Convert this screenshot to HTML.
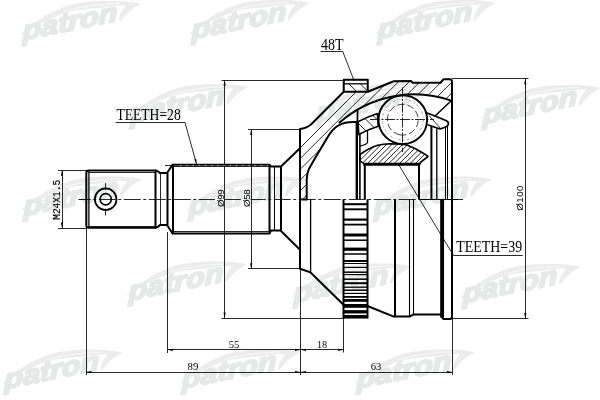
<!DOCTYPE html>
<html lang="en">
<head>
<meta charset="utf-8">
<title>patron CV joint drawing</title>
<style>
html,body{margin:0;padding:0;background:#fff;}
body{width:600px;height:400px;overflow:hidden;}
svg{display:block;will-change:transform;}
</style>
</head>
<body>
<svg width="600" height="400" viewBox="0 0 600 400">
<rect x="0" y="0" width="600" height="400" fill="#fff"/>
<g id="wm">
<g transform="translate(20.00 52.00)">
<path fill="#ececec" d="M1 -18 C14 -30 30 -41 50 -47 C62 -50 78 -51.5 96 -51 C106 -50.8 114 -49.8 121 -48 C113 -44.5 106 -38.5 100.5 -30.5 L98.5 -32 C99.5 -37 102 -42 106 -46.3 C98 -46.8 90 -45.5 84 -44.5 C72 -43.5 62 -42.5 54 -41.2 C42 -39 30 -34 16.5 -26.2 C10 -22.5 5 -19.5 1 -16.5Z"/>
<path fill="none" stroke="#fff" stroke-width="0.7" d="M44 -40.5 C56 -44.5 74 -47.6 100 -48.6"/>
</g>
<g transform="translate(22.80 40.20) skewY(-11.5)"><text x="0" y="0" font-family="'Liberation Sans', sans-serif" font-size="27" font-weight="bold" font-style="italic" fill="#e7e8e8" stroke="#e7e8e8" stroke-width="2.0" stroke-linejoin="round" textLength="94.5" lengthAdjust="spacingAndGlyphs">patron</text></g>
<g transform="translate(189.00 51.00)">
<path fill="#ececec" d="M1 -18 C14 -30 30 -41 50 -47 C62 -50 78 -51.5 96 -51 C106 -50.8 114 -49.8 121 -48 C113 -44.5 106 -38.5 100.5 -30.5 L98.5 -32 C99.5 -37 102 -42 106 -46.3 C98 -46.8 90 -45.5 84 -44.5 C72 -43.5 62 -42.5 54 -41.2 C42 -39 30 -34 16.5 -26.2 C10 -22.5 5 -19.5 1 -16.5Z"/>
<path fill="none" stroke="#fff" stroke-width="0.7" d="M44 -40.5 C56 -44.5 74 -47.6 100 -48.6"/>
</g>
<g transform="translate(191.80 39.20) skewY(-11.5)"><text x="0" y="0" font-family="'Liberation Sans', sans-serif" font-size="27" font-weight="bold" font-style="italic" fill="#e7e8e8" stroke="#e7e8e8" stroke-width="2.0" stroke-linejoin="round" textLength="94.5" lengthAdjust="spacingAndGlyphs">patron</text></g>
<g transform="translate(375.00 51.00)">
<path fill="#ececec" d="M1 -18 C14 -30 30 -41 50 -47 C62 -50 78 -51.5 96 -51 C106 -50.8 114 -49.8 121 -48 C113 -44.5 106 -38.5 100.5 -30.5 L98.5 -32 C99.5 -37 102 -42 106 -46.3 C98 -46.8 90 -45.5 84 -44.5 C72 -43.5 62 -42.5 54 -41.2 C42 -39 30 -34 16.5 -26.2 C10 -22.5 5 -19.5 1 -16.5Z"/>
<path fill="none" stroke="#fff" stroke-width="0.7" d="M44 -40.5 C56 -44.5 74 -47.6 100 -48.6"/>
</g>
<g transform="translate(377.80 39.20) skewY(-11.5)"><text x="0" y="0" font-family="'Liberation Sans', sans-serif" font-size="27" font-weight="bold" font-style="italic" fill="#e7e8e8" stroke="#e7e8e8" stroke-width="2.0" stroke-linejoin="round" textLength="94.5" lengthAdjust="spacingAndGlyphs">patron</text></g>
<g transform="translate(127.50 135.00)">
<path fill="#ececec" d="M1 -18 C14 -30 30 -41 50 -47 C62 -50 78 -51.5 96 -51 C106 -50.8 114 -49.8 121 -48 C113 -44.5 106 -38.5 100.5 -30.5 L98.5 -32 C99.5 -37 102 -42 106 -46.3 C98 -46.8 90 -45.5 84 -44.5 C72 -43.5 62 -42.5 54 -41.2 C42 -39 30 -34 16.5 -26.2 C10 -22.5 5 -19.5 1 -16.5Z"/>
<path fill="none" stroke="#fff" stroke-width="0.7" d="M44 -40.5 C56 -44.5 74 -47.6 100 -48.6"/>
</g>
<g transform="translate(130.30 123.20) skewY(-11.5)"><text x="0" y="0" font-family="'Liberation Sans', sans-serif" font-size="27" font-weight="bold" font-style="italic" fill="#e7e8e8" stroke="#e7e8e8" stroke-width="2.0" stroke-linejoin="round" textLength="94.5" lengthAdjust="spacingAndGlyphs">patron</text></g>
<g transform="translate(314.00 134.00)">
<path fill="#ececec" d="M1 -18 C14 -30 30 -41 50 -47 C62 -50 78 -51.5 96 -51 C106 -50.8 114 -49.8 121 -48 C113 -44.5 106 -38.5 100.5 -30.5 L98.5 -32 C99.5 -37 102 -42 106 -46.3 C98 -46.8 90 -45.5 84 -44.5 C72 -43.5 62 -42.5 54 -41.2 C42 -39 30 -34 16.5 -26.2 C10 -22.5 5 -19.5 1 -16.5Z"/>
<path fill="none" stroke="#fff" stroke-width="0.7" d="M44 -40.5 C56 -44.5 74 -47.6 100 -48.6"/>
</g>
<g transform="translate(316.80 122.20) skewY(-11.5)"><text x="0" y="0" font-family="'Liberation Sans', sans-serif" font-size="27" font-weight="bold" font-style="italic" fill="#e7e8e8" stroke="#e7e8e8" stroke-width="2.0" stroke-linejoin="round" textLength="94.5" lengthAdjust="spacingAndGlyphs">patron</text></g>
<g transform="translate(480.00 136.00)">
<path fill="#ececec" d="M1 -18 C14 -30 30 -41 50 -47 C62 -50 78 -51.5 96 -51 C106 -50.8 114 -49.8 121 -48 C113 -44.5 106 -38.5 100.5 -30.5 L98.5 -32 C99.5 -37 102 -42 106 -46.3 C98 -46.8 90 -45.5 84 -44.5 C72 -43.5 62 -42.5 54 -41.2 C42 -39 30 -34 16.5 -26.2 C10 -22.5 5 -19.5 1 -16.5Z"/>
<path fill="none" stroke="#fff" stroke-width="0.7" d="M44 -40.5 C56 -44.5 74 -47.6 100 -48.6"/>
</g>
<g transform="translate(482.80 124.20) skewY(-11.5)"><text x="0" y="0" font-family="'Liberation Sans', sans-serif" font-size="27" font-weight="bold" font-style="italic" fill="#e7e8e8" stroke="#e7e8e8" stroke-width="2.0" stroke-linejoin="round" textLength="94.5" lengthAdjust="spacingAndGlyphs">patron</text></g>
<g transform="translate(21.00 227.50)">
<path fill="#ececec" d="M1 -18 C14 -30 30 -41 50 -47 C62 -50 78 -51.5 96 -51 C106 -50.8 114 -49.8 121 -48 C113 -44.5 106 -38.5 100.5 -30.5 L98.5 -32 C99.5 -37 102 -42 106 -46.3 C98 -46.8 90 -45.5 84 -44.5 C72 -43.5 62 -42.5 54 -41.2 C42 -39 30 -34 16.5 -26.2 C10 -22.5 5 -19.5 1 -16.5Z"/>
<path fill="none" stroke="#fff" stroke-width="0.7" d="M44 -40.5 C56 -44.5 74 -47.6 100 -48.6"/>
</g>
<g transform="translate(23.80 215.70) skewY(-11.5)"><text x="0" y="0" font-family="'Liberation Sans', sans-serif" font-size="27" font-weight="bold" font-style="italic" fill="#e7e8e8" stroke="#e7e8e8" stroke-width="2.0" stroke-linejoin="round" textLength="94.5" lengthAdjust="spacingAndGlyphs">patron</text></g>
<g transform="translate(186.00 227.50)">
<path fill="#ececec" d="M1 -18 C14 -30 30 -41 50 -47 C62 -50 78 -51.5 96 -51 C106 -50.8 114 -49.8 121 -48 C113 -44.5 106 -38.5 100.5 -30.5 L98.5 -32 C99.5 -37 102 -42 106 -46.3 C98 -46.8 90 -45.5 84 -44.5 C72 -43.5 62 -42.5 54 -41.2 C42 -39 30 -34 16.5 -26.2 C10 -22.5 5 -19.5 1 -16.5Z"/>
<path fill="none" stroke="#fff" stroke-width="0.7" d="M44 -40.5 C56 -44.5 74 -47.6 100 -48.6"/>
</g>
<g transform="translate(188.80 215.70) skewY(-11.5)"><text x="0" y="0" font-family="'Liberation Sans', sans-serif" font-size="27" font-weight="bold" font-style="italic" fill="#e7e8e8" stroke="#e7e8e8" stroke-width="2.0" stroke-linejoin="round" textLength="94.5" lengthAdjust="spacingAndGlyphs">patron</text></g>
<g transform="translate(371.30 227.50)">
<path fill="#ececec" d="M1 -18 C14 -30 30 -41 50 -47 C62 -50 78 -51.5 96 -51 C106 -50.8 114 -49.8 121 -48 C113 -44.5 106 -38.5 100.5 -30.5 L98.5 -32 C99.5 -37 102 -42 106 -46.3 C98 -46.8 90 -45.5 84 -44.5 C72 -43.5 62 -42.5 54 -41.2 C42 -39 30 -34 16.5 -26.2 C10 -22.5 5 -19.5 1 -16.5Z"/>
<path fill="none" stroke="#fff" stroke-width="0.7" d="M44 -40.5 C56 -44.5 74 -47.6 100 -48.6"/>
</g>
<g transform="translate(374.10 215.70) skewY(-11.5)"><text x="0" y="0" font-family="'Liberation Sans', sans-serif" font-size="27" font-weight="bold" font-style="italic" fill="#e7e8e8" stroke="#e7e8e8" stroke-width="2.0" stroke-linejoin="round" textLength="94.5" lengthAdjust="spacingAndGlyphs">patron</text></g>
<g transform="translate(126.00 312.50)">
<path fill="#ececec" d="M1 -18 C14 -30 30 -41 50 -47 C62 -50 78 -51.5 96 -51 C106 -50.8 114 -49.8 121 -48 C113 -44.5 106 -38.5 100.5 -30.5 L98.5 -32 C99.5 -37 102 -42 106 -46.3 C98 -46.8 90 -45.5 84 -44.5 C72 -43.5 62 -42.5 54 -41.2 C42 -39 30 -34 16.5 -26.2 C10 -22.5 5 -19.5 1 -16.5Z"/>
<path fill="none" stroke="#fff" stroke-width="0.7" d="M44 -40.5 C56 -44.5 74 -47.6 100 -48.6"/>
</g>
<g transform="translate(128.80 300.70) skewY(-11.5)"><text x="0" y="0" font-family="'Liberation Sans', sans-serif" font-size="27" font-weight="bold" font-style="italic" fill="#e7e8e8" stroke="#e7e8e8" stroke-width="2.0" stroke-linejoin="round" textLength="94.5" lengthAdjust="spacingAndGlyphs">patron</text></g>
<g transform="translate(291.00 314.50)">
<path fill="#ececec" d="M1 -18 C14 -30 30 -41 50 -47 C62 -50 78 -51.5 96 -51 C106 -50.8 114 -49.8 121 -48 C113 -44.5 106 -38.5 100.5 -30.5 L98.5 -32 C99.5 -37 102 -42 106 -46.3 C98 -46.8 90 -45.5 84 -44.5 C72 -43.5 62 -42.5 54 -41.2 C42 -39 30 -34 16.5 -26.2 C10 -22.5 5 -19.5 1 -16.5Z"/>
<path fill="none" stroke="#fff" stroke-width="0.7" d="M44 -40.5 C56 -44.5 74 -47.6 100 -48.6"/>
</g>
<g transform="translate(293.80 302.70) skewY(-11.5)"><text x="0" y="0" font-family="'Liberation Sans', sans-serif" font-size="27" font-weight="bold" font-style="italic" fill="#e7e8e8" stroke="#e7e8e8" stroke-width="2.0" stroke-linejoin="round" textLength="94.5" lengthAdjust="spacingAndGlyphs">patron</text></g>
<g transform="translate(460.00 315.00)">
<path fill="#ececec" d="M1 -18 C14 -30 30 -41 50 -47 C62 -50 78 -51.5 96 -51 C106 -50.8 114 -49.8 121 -48 C113 -44.5 106 -38.5 100.5 -30.5 L98.5 -32 C99.5 -37 102 -42 106 -46.3 C98 -46.8 90 -45.5 84 -44.5 C72 -43.5 62 -42.5 54 -41.2 C42 -39 30 -34 16.5 -26.2 C10 -22.5 5 -19.5 1 -16.5Z"/>
<path fill="none" stroke="#fff" stroke-width="0.7" d="M44 -40.5 C56 -44.5 74 -47.6 100 -48.6"/>
</g>
<g transform="translate(462.80 303.20) skewY(-11.5)"><text x="0" y="0" font-family="'Liberation Sans', sans-serif" font-size="27" font-weight="bold" font-style="italic" fill="#e7e8e8" stroke="#e7e8e8" stroke-width="2.0" stroke-linejoin="round" textLength="94.5" lengthAdjust="spacingAndGlyphs">patron</text></g>
<g transform="translate(1.80 400.70)">
<path fill="#ececec" d="M1 -18 C14 -30 30 -41 50 -47 C62 -50 78 -51.5 96 -51 C106 -50.8 114 -49.8 121 -48 C113 -44.5 106 -38.5 100.5 -30.5 L98.5 -32 C99.5 -37 102 -42 106 -46.3 C98 -46.8 90 -45.5 84 -44.5 C72 -43.5 62 -42.5 54 -41.2 C42 -39 30 -34 16.5 -26.2 C10 -22.5 5 -19.5 1 -16.5Z"/>
<path fill="none" stroke="#fff" stroke-width="0.7" d="M44 -40.5 C56 -44.5 74 -47.6 100 -48.6"/>
</g>
<g transform="translate(4.60 388.90) skewY(-11.5)"><text x="0" y="0" font-family="'Liberation Sans', sans-serif" font-size="27" font-weight="bold" font-style="italic" fill="#e7e8e8" stroke="#e7e8e8" stroke-width="2.0" stroke-linejoin="round" textLength="94.5" lengthAdjust="spacingAndGlyphs">patron</text></g>
<g transform="translate(179.30 400.50)">
<path fill="#ececec" d="M1 -18 C14 -30 30 -41 50 -47 C62 -50 78 -51.5 96 -51 C106 -50.8 114 -49.8 121 -48 C113 -44.5 106 -38.5 100.5 -30.5 L98.5 -32 C99.5 -37 102 -42 106 -46.3 C98 -46.8 90 -45.5 84 -44.5 C72 -43.5 62 -42.5 54 -41.2 C42 -39 30 -34 16.5 -26.2 C10 -22.5 5 -19.5 1 -16.5Z"/>
<path fill="none" stroke="#fff" stroke-width="0.7" d="M44 -40.5 C56 -44.5 74 -47.6 100 -48.6"/>
</g>
<g transform="translate(182.10 388.70) skewY(-11.5)"><text x="0" y="0" font-family="'Liberation Sans', sans-serif" font-size="27" font-weight="bold" font-style="italic" fill="#e7e8e8" stroke="#e7e8e8" stroke-width="2.0" stroke-linejoin="round" textLength="94.5" lengthAdjust="spacingAndGlyphs">patron</text></g>
<g transform="translate(354.00 400.50)">
<path fill="#ececec" d="M1 -18 C14 -30 30 -41 50 -47 C62 -50 78 -51.5 96 -51 C106 -50.8 114 -49.8 121 -48 C113 -44.5 106 -38.5 100.5 -30.5 L98.5 -32 C99.5 -37 102 -42 106 -46.3 C98 -46.8 90 -45.5 84 -44.5 C72 -43.5 62 -42.5 54 -41.2 C42 -39 30 -34 16.5 -26.2 C10 -22.5 5 -19.5 1 -16.5Z"/>
<path fill="none" stroke="#fff" stroke-width="0.7" d="M44 -40.5 C56 -44.5 74 -47.6 100 -48.6"/>
</g>
<g transform="translate(356.80 388.70) skewY(-11.5)"><text x="0" y="0" font-family="'Liberation Sans', sans-serif" font-size="27" font-weight="bold" font-style="italic" fill="#e7e8e8" stroke="#e7e8e8" stroke-width="2.0" stroke-linejoin="round" textLength="94.5" lengthAdjust="spacingAndGlyphs">patron</text></g>
</g>
<defs>
<clipPath id="cH"><path d="M300 199.5 L300 129 Q306 128.5 311 124.5 L341.5 94 L343.75 91.75 L367.75 91.75 L393.75 81.25 L411 81 L412.75 82.75 L440.5 82.75 L443.5 79.3 L450.25 79.3 L452 81.5 L452 100.8 A112.6 112.6 0 0 0 339.5 122.4 L340.5 124 Q338 125.3 336 127 Q332 130 328.8 135.3 L315.3 157.8 L310 167 Q307 172 306.7 180 L306.7 199.5 Z"/></clipPath>
<clipPath id="cR"><path d="M360 154.7 Q364 151.5 368.3 149.3 Q373 147 377.7 145.3 Q383 144 390 143.8 L403 144.3 Q408 145 411 146.7 Q415 148.3 419 150.7 L425.7 154.7 L428 156.5 L420.3 162.5 L420.3 163.5 L363.5 163.5 L360 160.7 Z"/></clipPath>
<clipPath id="cCL"><path d="M358 121.75 Q368 116.5 377.5 113.5 L378.25 126.25 Q368 129.5 358.75 134.5 Z"/></clipPath>
<clipPath id="cRT"><path d="M343.75 83.8 H367.75 V91.75 H343.75 Z"/></clipPath>
</defs>
<g id="thin">
<line x1="78.5" y1="199.5" x2="463" y2="199.5" stroke="#111" stroke-width="0.9" stroke-dasharray="17 2.5 3 2.5" stroke-dashoffset="4.75"/>
<rect x="215" y="197" width="9" height="5" fill="#fff"/>
<rect x="241.5" y="197" width="9" height="5" fill="#fff"/>
<g clip-path="url(#cH)">
<line x1="388.0" y1="60" x2="238.0" y2="210" stroke="#111" stroke-width="0.9" />
<line x1="398.75" y1="60" x2="248.75" y2="210" stroke="#111" stroke-width="0.9" />
<line x1="409.5" y1="60" x2="259.5" y2="210" stroke="#111" stroke-width="0.9" />
<line x1="420.25" y1="60" x2="270.25" y2="210" stroke="#111" stroke-width="0.9" />
<line x1="431.0" y1="60" x2="281.0" y2="210" stroke="#111" stroke-width="0.9" />
<line x1="441.75" y1="60" x2="291.75" y2="210" stroke="#111" stroke-width="0.9" />
<line x1="452.5" y1="60" x2="302.5" y2="210" stroke="#111" stroke-width="0.9" />
<line x1="463.25" y1="60" x2="313.25" y2="210" stroke="#111" stroke-width="0.9" />
<line x1="474.0" y1="60" x2="324.0" y2="210" stroke="#111" stroke-width="0.9" />
<line x1="484.75" y1="60" x2="334.75" y2="210" stroke="#111" stroke-width="0.9" />
<line x1="495.5" y1="60" x2="345.5" y2="210" stroke="#111" stroke-width="0.9" />
</g>
<g clip-path="url(#cRT)">
<line x1="325.0" y1="60" x2="385.0" y2="120" stroke="#111" stroke-width="0.9" />
<line x1="336.5" y1="60" x2="396.5" y2="120" stroke="#111" stroke-width="0.9" />
</g>
<g clip-path="url(#cR)">
<line x1="379.68" y1="130" x2="339.68" y2="170" stroke="#111" stroke-width="0.9" />
<line x1="385.01" y1="130" x2="345.01" y2="170" stroke="#111" stroke-width="0.9" />
<line x1="390.34000000000003" y1="130" x2="350.34000000000003" y2="170" stroke="#111" stroke-width="0.9" />
<line x1="395.6700000000001" y1="130" x2="355.6700000000001" y2="170" stroke="#111" stroke-width="0.9" />
<line x1="401.0000000000001" y1="130" x2="361.0000000000001" y2="170" stroke="#111" stroke-width="0.9" />
<line x1="406.33000000000015" y1="130" x2="366.33000000000015" y2="170" stroke="#111" stroke-width="0.9" />
<line x1="411.6600000000002" y1="130" x2="371.6600000000002" y2="170" stroke="#111" stroke-width="0.9" />
<line x1="416.99000000000024" y1="130" x2="376.99000000000024" y2="170" stroke="#111" stroke-width="0.9" />
<line x1="422.3200000000003" y1="130" x2="382.3200000000003" y2="170" stroke="#111" stroke-width="0.9" />
<line x1="427.6500000000003" y1="130" x2="387.6500000000003" y2="170" stroke="#111" stroke-width="0.9" />
<line x1="432.98000000000036" y1="130" x2="392.98000000000036" y2="170" stroke="#111" stroke-width="0.9" />
<line x1="438.3100000000004" y1="130" x2="398.3100000000004" y2="170" stroke="#111" stroke-width="0.9" />
<line x1="443.64000000000044" y1="130" x2="403.64000000000044" y2="170" stroke="#111" stroke-width="0.9" />
<line x1="448.9700000000005" y1="130" x2="408.9700000000005" y2="170" stroke="#111" stroke-width="0.9" />
<line x1="454.3000000000005" y1="130" x2="414.3000000000005" y2="170" stroke="#111" stroke-width="0.9" />
<line x1="459.63000000000056" y1="130" x2="419.63000000000056" y2="170" stroke="#111" stroke-width="0.9" />
<line x1="464.9600000000006" y1="130" x2="424.9600000000006" y2="170" stroke="#111" stroke-width="0.9" />
</g>
<g clip-path="url(#cCL)">
<line x1="335" y1="100" x2="375" y2="140" stroke="#111" stroke-width="0.9" />
<line x1="346.5" y1="100" x2="386.5" y2="140" stroke="#111" stroke-width="0.9" />
<line x1="357.5" y1="100" x2="397.5" y2="140" stroke="#111" stroke-width="0.9" />
</g>
<line x1="58" y1="170.5" x2="87" y2="170.5" stroke="#111" stroke-width="0.9" />
<line x1="58" y1="228.5" x2="87" y2="228.5" stroke="#111" stroke-width="0.9" />
<line x1="62.5" y1="170.3" x2="62.5" y2="228" stroke="#111" stroke-width="0.9" />
<path d="M62.00 170.30 L63.10 175.80 L60.90 175.80Z" fill="#000" stroke="none"/>
<path d="M62.00 228.00 L60.90 222.50 L63.10 222.50Z" fill="#000" stroke="none"/>
<line x1="221.6" y1="80.5" x2="343.75" y2="80.5" stroke="#111" stroke-width="0.9" />
<line x1="221.6" y1="318.5" x2="343.75" y2="318.5" stroke="#111" stroke-width="0.9" />
<line x1="224.5" y1="80" x2="224.5" y2="318" stroke="#111" stroke-width="0.9" />
<path d="M224.60 80.00 L225.70 85.50 L223.50 85.50Z" fill="#000" stroke="none"/>
<path d="M224.60 318.00 L223.50 312.50 L225.70 312.50Z" fill="#000" stroke="none"/>
<line x1="248" y1="129.5" x2="300" y2="129.5" stroke="#111" stroke-width="0.9" />
<line x1="248" y1="268.5" x2="300" y2="268.5" stroke="#111" stroke-width="0.9" />
<line x1="251.5" y1="129.4" x2="251.5" y2="268.7" stroke="#111" stroke-width="0.9" />
<path d="M251.20 129.40 L252.30 134.90 L250.10 134.90Z" fill="#000" stroke="none"/>
<path d="M251.20 268.70 L250.10 263.20 L252.30 263.20Z" fill="#000" stroke="none"/>
<line x1="452" y1="78.5" x2="528.5" y2="78.5" stroke="#111" stroke-width="0.9" />
<line x1="452" y1="318.5" x2="528.5" y2="318.5" stroke="#111" stroke-width="0.9" />
<line x1="525.5" y1="78.8" x2="525.5" y2="318.6" stroke="#111" stroke-width="0.9" />
<path d="M525.30 78.80 L526.40 84.30 L524.20 84.30Z" fill="#000" stroke="none"/>
<path d="M525.30 318.60 L524.20 313.10 L526.40 313.10Z" fill="#000" stroke="none"/>
<line x1="86.5" y1="228" x2="86.5" y2="375" stroke="#111" stroke-width="0.9" />
<line x1="167.5" y1="232" x2="167.5" y2="353" stroke="#111" stroke-width="0.9" />
<line x1="300.5" y1="268" x2="300.5" y2="375" stroke="#111" stroke-width="0.9" />
<line x1="343.5" y1="318" x2="343.5" y2="352.5" stroke="#111" stroke-width="0.9" />
<line x1="452.5" y1="319" x2="452.5" y2="375" stroke="#111" stroke-width="0.9" />
<line x1="167.4" y1="349.5" x2="343.6" y2="349.5" stroke="#111" stroke-width="0.9" />
<path d="M167.40 349.80 L172.90 348.70 L172.90 350.90Z" fill="#000" stroke="none"/>
<path d="M300.50 349.80 L295.00 350.90 L295.00 348.70Z" fill="#000" stroke="none"/>
<path d="M300.50 349.80 L306.00 348.70 L306.00 350.90Z" fill="#000" stroke="none"/>
<path d="M343.60 349.80 L338.10 350.90 L338.10 348.70Z" fill="#000" stroke="none"/>
<line x1="86" y1="372.5" x2="452.3" y2="372.5" stroke="#111" stroke-width="0.9" />
<path d="M86.00 372.00 L91.50 370.90 L91.50 373.10Z" fill="#000" stroke="none"/>
<path d="M300.50 372.00 L295.00 373.10 L295.00 370.90Z" fill="#000" stroke="none"/>
<path d="M300.50 372.00 L306.00 370.90 L306.00 373.10Z" fill="#000" stroke="none"/>
<path d="M452.30 372.00 L446.80 373.10 L446.80 370.90Z" fill="#000" stroke="none"/>
<path d="M116 122.5 L185 122.5 L196.4 163.5" fill="none" stroke="#111" stroke-width="0.9" stroke-linejoin="round" stroke-linecap="round" />
<path d="M196.60 164.00 L194.31 159.44 L196.24 158.91Z" fill="#000" stroke="none"/>
<path d="M321 51.5 L342.75 51.5 L354 80.5" fill="none" stroke="#111" stroke-width="0.9" stroke-linejoin="round" stroke-linecap="round" />
<path d="M398 163.5 L453.5 255.5 L522.3 255.5" fill="none" stroke="#111" stroke-width="0.9" stroke-linejoin="round" stroke-linecap="round" />
<line x1="79" y1="199.5" x2="86" y2="199.5" stroke="#111" stroke-width="0.9" />
<line x1="105.5" y1="183" x2="105.5" y2="190" stroke="#111" stroke-width="0.9" />
<line x1="105.5" y1="208.5" x2="105.5" y2="215.5" stroke="#111" stroke-width="0.9" />
<line x1="89" y1="172.5" x2="155.5" y2="172.5" stroke="#111" stroke-width="0.9" />
<line x1="89" y1="226.5" x2="155.5" y2="226.5" stroke="#111" stroke-width="0.9" />
<line x1="173" y1="166.5" x2="269.5" y2="166.5" stroke="#111" stroke-width="0.9" />
<line x1="173" y1="231.5" x2="269.5" y2="231.5" stroke="#111" stroke-width="0.9" />
<line x1="160.5" y1="173" x2="160.5" y2="225" stroke="#111" stroke-width="0.9" />
<line x1="165" y1="165.5" x2="173" y2="165.5" stroke="#111" stroke-width="0.9" />
<line x1="274.5" y1="166.5" x2="274.5" y2="230.5" stroke="#000" stroke-width="1.0" />
</g>
<g id="thick">
<path d="M155.5 170.5 L88.8 170.5 Q86.3 170.5 86.3 173 L86.3 225.3 Q86.3 227.8 88.8 227.8 L155.5 227.8" fill="none" stroke="#000" stroke-width="2.0" stroke-linejoin="round" stroke-linecap="round" />
<line x1="88.9" y1="171" x2="88.9" y2="227.3" stroke="#000" stroke-width="1.3" />
<path d="M155.5 170.5 Q158 171 160 173 L167 173 L172.6 164.8" fill="none" stroke="#000" stroke-width="2.0" stroke-linejoin="round" stroke-linecap="round" />
<path d="M155.5 227.8 Q158 227.3 160 225 L167 225 L172.6 233.5" fill="none" stroke="#000" stroke-width="2.0" stroke-linejoin="round" stroke-linecap="round" />
<line x1="155.5" y1="170.5" x2="155.5" y2="227.8" stroke="#000" stroke-width="2.0" />
<line x1="167.5" y1="173" x2="167.5" y2="225" stroke="#000" stroke-width="2.0" />
<line x1="173" y1="164.8" x2="173" y2="233.5" stroke="#000" stroke-width="2.0" />
<circle cx="105.7" cy="199.25" r="10.8" fill="none" stroke="#000" stroke-width="1.7"/>
<circle cx="105.7" cy="199.25" r="5.6" fill="none" stroke="#000" stroke-width="1.6"/>
<path d="M172.6 164.8 L269.5 164.8 L271 166.5 L281 166.5 L299.7 148.5" fill="none" stroke="#000" stroke-width="2.0" stroke-linejoin="round" stroke-linecap="round" />
<path d="M172.6 233.5 L269.5 233.5 L271 230.5 L280.5 230.5 L300 249.7" fill="none" stroke="#000" stroke-width="2.0" stroke-linejoin="round" stroke-linecap="round" />
<line x1="269.5" y1="164.8" x2="269.5" y2="233.5" stroke="#000" stroke-width="2.0" />
<line x1="281" y1="166.5" x2="281" y2="230.5" stroke="#000" stroke-width="2.0" />
<line x1="180" y1="165.3" x2="268" y2="165.3" stroke="#fff" stroke-width="0.6" stroke-dasharray="1.5 4.7"/>
<line x1="300" y1="129" x2="300" y2="268.8" stroke="#000" stroke-width="2.0" />
<line x1="310.6" y1="199.25" x2="310.6" y2="272.3" stroke="#000" stroke-width="1.3" />
<path d="M300 129 Q306 128.5 311 124.5 L341.5 94 L343.75 91.75" fill="none" stroke="#000" stroke-width="2.0" stroke-linejoin="round" stroke-linecap="round" />
<path d="M343.75 79.75 H367.75 V91.75 H343.75 Z" fill="none" stroke="#000" stroke-width="2.0" stroke-linejoin="round" stroke-linecap="round" />
<line x1="343.75" y1="83.8" x2="367.75" y2="83.8" stroke="#000" stroke-width="1.3" />
<path d="M367.75 91.75 L393.75 81.25 L411 81 L412.75 82.75 L440.5 82.75 L443.3 79.3 L450 79.3 Q452 79.5 452 82 L452 317" fill="none" stroke="#000" stroke-width="2.0" stroke-linejoin="round" stroke-linecap="round" />
<path d="M306.7 199.5 L306.7 180 Q307 172 310 167 L315.3 157.8 L328.8 135.3 Q332 130 336 127 Q341 123 349 122.2 L358 121.7" fill="none" stroke="#000" stroke-width="2.0" stroke-linejoin="round" stroke-linecap="round" />
<line x1="300" y1="199.5" x2="306.7" y2="199.5" stroke="#000" stroke-width="2.0" />
<path d="M339.5 122.6 A112.6 112.6 0 0 1 451.8 100.9" fill="none" stroke="#000" stroke-width="2.0" stroke-linejoin="round" stroke-linecap="round" />
<path d="M451.5 100.5 L435 116" fill="none" stroke="#000" stroke-width="1.5" stroke-linejoin="round" stroke-linecap="round" />
<path d="M358 121.75 Q368 116.5 377.5 113.5 L378.25 126.25 Q368 129.5 358.75 134.5 Z" fill="none" stroke="#000" stroke-width="1.7" stroke-linejoin="round" stroke-linecap="round" />
<path d="M357.6 110.5 L357.4 122" fill="none" stroke="#000" stroke-width="1.7" stroke-linejoin="round" stroke-linecap="round" />
<path d="M427 113 L435 116 L446.5 120.7 Q449 122 448.3 124.5 Q447.8 126.3 445 127.2 L440 129 L428.3 125" fill="none" stroke="#000" stroke-width="1.7" stroke-linejoin="round" stroke-linecap="round" />
<line x1="429" y1="115.5" x2="440.5" y2="128.5" stroke="#111" stroke-width="0.9" />
<path d="M367.5 131 L367.5 142.5 Q366 145 360.8 145.8" fill="none" stroke="#000" stroke-width="1.3" stroke-linejoin="round" stroke-linecap="round" />
<line x1="356.8" y1="122" x2="356.8" y2="199" stroke="#000" stroke-width="2.4" />
<line x1="359.9" y1="134" x2="359.9" y2="199" stroke="#000" stroke-width="1.6" />
<path d="M360 154.7 Q364 151.5 368.3 149.3 Q373 147 377.7 145.3 Q383 144 390 143.8 L403 144.3 Q408 145 411 146.7 Q415 148.3 419 150.7 L425.7 154.7 L428 156.5 L420.3 162.5 L420.3 163.5 L363.5 163.5 L360 160.7 Z" fill="none" stroke="#000" stroke-width="1.6" stroke-linejoin="round" stroke-linecap="round" />
<line x1="363.3" y1="164.3" x2="420.3" y2="164.3" stroke="#000" stroke-width="2.8" />
<line x1="364.8" y1="164" x2="364.8" y2="199" stroke="#000" stroke-width="2.0" />
<line x1="419" y1="164" x2="419" y2="199" stroke="#000" stroke-width="2.0" />
<line x1="431.4" y1="126.5" x2="431.4" y2="199" stroke="#000" stroke-width="2.0" />
<line x1="436.8" y1="128.5" x2="436.8" y2="199" stroke="#000" stroke-width="1.3" />
<line x1="445.5" y1="127.3" x2="445.5" y2="199" stroke="#000" stroke-width="1.0" />
<line x1="447.5" y1="126" x2="447.5" y2="199" stroke="#000" stroke-width="1.0" />
<line x1="419" y1="199.5" x2="458" y2="199.5" stroke="#000" stroke-width="1.0" />
<circle cx="402.8" cy="119.7" r="24.3" fill="none" stroke="#000" stroke-width="1.9"/>
<circle cx="402.8" cy="119.7" r="15.4" fill="none" stroke="#222" stroke-width="0.8" stroke-dasharray="7 3" transform="rotate(100 402.8 119.7)"/>
<circle cx="402.8" cy="119.7" r="20.4" fill="none" stroke="#666" stroke-width="0.6" stroke-dasharray="2.5 2.5 1 2.5"/>
<line x1="402.5" y1="87.5" x2="402.5" y2="152" stroke="#111" stroke-width="0.9" stroke-dasharray="10 1.5 2 1.5"/>
<line x1="370" y1="119.5" x2="434" y2="119.5" stroke="#111" stroke-width="0.9" stroke-dasharray="10 1.5 2 1.5"/>
<path d="M300 268.8 L310.3 272.3 L343.75 305" fill="none" stroke="#000" stroke-width="2.0" stroke-linejoin="round" stroke-linecap="round" />
<path d="M367.5 306 L393.75 316.6 L409.5 316.6 L413.6 314.4 L440.4 314.4 L443.3 319 L450 319 Q452 318.8 452 316.5" fill="none" stroke="#000" stroke-width="2.0" stroke-linejoin="round" stroke-linecap="round" />
<line x1="395" y1="199.25" x2="395" y2="316.3" stroke="#000" stroke-width="2.0" />
<line x1="409.5" y1="199.25" x2="409.5" y2="316.5" stroke="#000" stroke-width="1.1" />
<line x1="413.5" y1="199.25" x2="413.5" y2="314.5" stroke="#000" stroke-width="1.1" />
<line x1="442.1" y1="199.25" x2="442.1" y2="317.5" stroke="#000" stroke-width="3.9" />
<line x1="343.5" y1="199.25" x2="343.5" y2="318.5" stroke="#000" stroke-width="2.0" />
<line x1="367.5" y1="199.25" x2="367.5" y2="318.5" stroke="#000" stroke-width="2.0" />
<line x1="343.5" y1="204.2" x2="367.5" y2="204.2" stroke="#000" stroke-width="2.1" />
<line x1="343.5" y1="209.3" x2="367.5" y2="209.3" stroke="#000" stroke-width="1.9" />
<line x1="343.5" y1="219.6" x2="367.5" y2="219.6" stroke="#000" stroke-width="2.2" />
<line x1="343.5" y1="224.6" x2="367.5" y2="224.6" stroke="#000" stroke-width="1.8" />
<line x1="343.5" y1="235" x2="367.5" y2="235" stroke="#000" stroke-width="3.0" />
<line x1="343.5" y1="240.2" x2="367.5" y2="240.2" stroke="#000" stroke-width="1.5" />
<line x1="343.5" y1="249.2" x2="367.5" y2="249.2" stroke="#000" stroke-width="3.2" />
<line x1="343.5" y1="254" x2="367.5" y2="254" stroke="#000" stroke-width="1.5" />
<line x1="343.5" y1="261" x2="367.5" y2="261" stroke="#000" stroke-width="2.0" />
<line x1="343.5" y1="263.5" x2="367.5" y2="263.5" stroke="#000" stroke-width="1.0" />
<line x1="343.5" y1="267.4" x2="367.5" y2="267.4" stroke="#000" stroke-width="1.2" />
<line x1="343.5" y1="272.2" x2="367.5" y2="272.2" stroke="#000" stroke-width="1.5" />
<line x1="343.5" y1="274.6" x2="367.5" y2="274.6" stroke="#000" stroke-width="1.2" />
<line x1="343.5" y1="279.2" x2="367.5" y2="279.2" stroke="#000" stroke-width="1.5" />
<line x1="343.5" y1="283.2" x2="367.5" y2="283.2" stroke="#000" stroke-width="2.0" />
<line x1="343.5" y1="287.2" x2="367.5" y2="287.2" stroke="#000" stroke-width="1.3" />
<line x1="343.5" y1="290.2" x2="367.5" y2="290.2" stroke="#000" stroke-width="1.5" />
<line x1="343.5" y1="293.4" x2="367.5" y2="293.4" stroke="#000" stroke-width="1.2" />
<line x1="343.5" y1="296.9" x2="367.5" y2="296.9" stroke="#000" stroke-width="1.8" />
<line x1="343.5" y1="300.4" x2="367.5" y2="300.4" stroke="#000" stroke-width="2.8" />
<line x1="343.5" y1="305.9" x2="367.5" y2="305.9" stroke="#000" stroke-width="3.8" />
<line x1="343.5" y1="311.8" x2="367.5" y2="311.8" stroke="#000" stroke-width="3.3" />
<line x1="343.5" y1="316.8" x2="367.5" y2="316.8" stroke="#000" stroke-width="3.5" />
</g>
<g id="txt" fill="#000">
<text x="116.4" y="119.7" font-family="'Liberation Serif', serif" font-size="16" text-anchor="start" textLength="64.3" lengthAdjust="spacingAndGlyphs" >TEETH=28</text>
<text x="456.3" y="252" font-family="'Liberation Serif', serif" font-size="16" text-anchor="start" textLength="65.8" lengthAdjust="spacingAndGlyphs" >TEETH=39</text>
<text x="321" y="49.8" font-family="'Liberation Serif', serif" font-size="16" text-anchor="start" textLength="22.5" lengthAdjust="spacingAndGlyphs" >48T</text>
<text x="228.8" y="347.7" font-family="'Liberation Serif', serif" font-size="11.3" text-anchor="start" textLength="10.6" lengthAdjust="spacingAndGlyphs" >55</text>
<text x="317.0" y="347.8" font-family="'Liberation Serif', serif" font-size="11.3" text-anchor="start" textLength="10.2" lengthAdjust="spacingAndGlyphs" >18</text>
<text x="187.6" y="369.8" font-family="'Liberation Serif', serif" font-size="11.3" text-anchor="start" textLength="10.8" lengthAdjust="spacingAndGlyphs" >89</text>
<text x="370.8" y="369.8" font-family="'Liberation Serif', serif" font-size="11.3" text-anchor="start" textLength="10.6" lengthAdjust="spacingAndGlyphs" >63</text>
<text x="59.7" y="219.8" font-family="'Liberation Mono', monospace" font-size="10.5" text-anchor="start" textLength="40" lengthAdjust="spacingAndGlyphs" transform="rotate(-90 59.7 219.8)" stroke="#000" stroke-width="0.15">M24X1.5</text>
<text x="223.8" y="207" font-family="'Liberation Sans', sans-serif" font-size="9.8" text-anchor="start" textLength="17.8" lengthAdjust="spacing" transform="rotate(-90 223.8 207)" >Ø99</text>
<text x="250.2" y="207" font-family="'Liberation Sans', sans-serif" font-size="9.8" text-anchor="start" textLength="17.8" lengthAdjust="spacing" transform="rotate(-90 250.2 207)" >Ø58</text>
<text x="522.8" y="210.8" font-family="'Liberation Sans', sans-serif" font-size="9.8" text-anchor="start" textLength="25.3" lengthAdjust="spacing" transform="rotate(-90 522.8 210.8)" >Ø100</text>
</g>
</svg>
</body>
</html>
